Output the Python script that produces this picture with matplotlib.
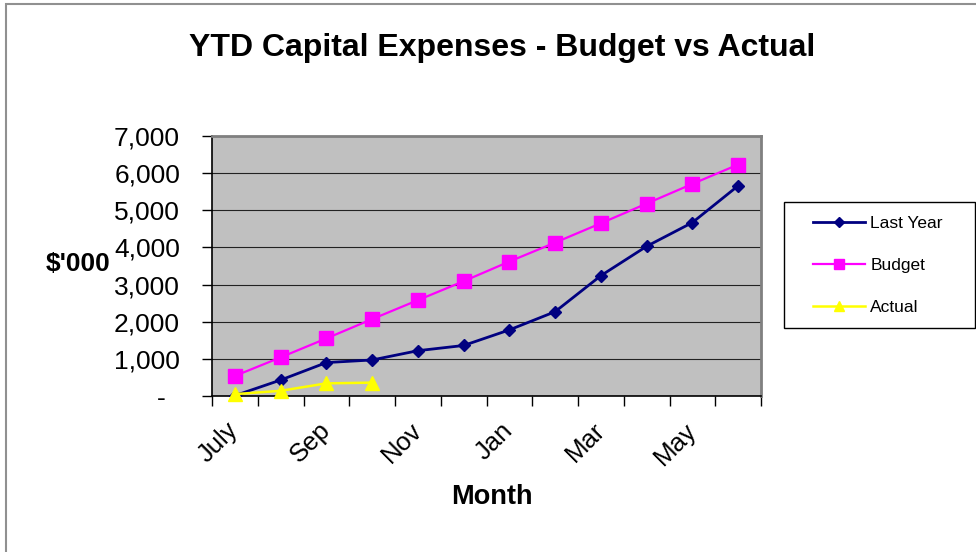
import matplotlib
matplotlib.use("Agg")
import matplotlib.pyplot as plt
from matplotlib.patches import Rectangle
from matplotlib.ticker import FuncFormatter
import numpy as np

plt.rcParams['font.family'] = ['Liberation Sans', 'DejaVu Sans']

months = ['July', 'Aug', 'Sep', 'Oct', 'Nov', 'Dec', 'Jan', 'Feb', 'Mar', 'Apr', 'May', 'June']
last_year = [10, 430, 900, 970, 1220, 1360, 1780, 2270, 3240, 4030, 4670, 5660]
budget = [540, 1040, 1550, 2070, 2580, 3090, 3620, 4130, 4650, 5180, 5710, 6230]
actual = [50, 140, 340, 360]
y_ticks = [0, 1000, 2000, 3000, 4000, 5000, 6000, 7000]

fig = plt.figure(figsize=(9.76, 5.52), dpi=100)
ax = fig.add_axes([212 / 976, 1 - 396 / 552, 549 / 976, 260 / 552])
ax.set_facecolor('#C0C0C0')

x = np.arange(len(months))
ax.plot(x, last_year, color='#000080', lw=2, marker='D', ms=6.5, label='Last Year', zorder=3)
ax.plot(x, budget, color='#FF00FF', lw=1.6, marker='s', ms=10.5, label='Budget', zorder=3)
ax.plot(x[:len(actual)], actual, color='#FFFF00', lw=1.8, marker='^', ms=10, label='Actual',
        zorder=4, clip_on=False)

ax.set_xlim(-0.5, len(months) - 0.5)
ax.set_ylim(0, 7000)

# y axis
ax.set_yticks(y_ticks)
ax.yaxis.set_major_formatter(FuncFormatter(lambda v, p: '-  ' if v == 0 else f'{v:,.0f}'))
ax.tick_params(axis='y', direction='out', length=7, width=1, pad=16, labelsize=19)
ax.grid(axis='y', color='#222222', lw=0.8)
ax.set_axisbelow(True)

# x axis: ticks between categories, labels on every other month
ax.set_xticks(np.arange(-0.5, len(months), 1))
ax.set_xticklabels([])
ax.set_xticks(x[::2], minor=True)
ax.set_xticklabels(months[::2], minor=True)
ax.tick_params(axis='x', which='major', direction='out', length=7, width=1)
ax.tick_params(axis='x', which='minor', length=0, pad=22, labelsize=18.5)
plt.setp(ax.get_xticklabels(minor=True), rotation=45, ha='right', va='center',
         rotation_mode='anchor')
for lbl in ax.get_xticklabels(minor=True):
    lbl.set_x(lbl.get_position()[0])

for s in ['top', 'right']:
    ax.spines[s].set_color('#808080')
    ax.spines[s].set_linewidth(2)
for s in ['left', 'bottom']:
    ax.spines[s].set_color('black')
    ax.spines[s].set_linewidth(1.2)

ax.set_ylabel("$'000", rotation=0, fontsize=19, fontweight='bold', ha='right', va='center')
ax.yaxis.set_label_coords((110 - 212) / 549, (396 - 264) / 260)
ax.set_xlabel('Month', fontsize=19.5, fontweight='bold', va='center')
ax.xaxis.set_label_coords((492 - 212) / 549, (396 - 497) / 260)

fig.text(502 / 976, 1 - 48 / 552, 'YTD Capital Expenses - Budget vs Actual',
         fontsize=23, fontweight='bold', ha='center', va='center')

# legend box
fig.add_artist(Rectangle((784 / 976, 1 - 328 / 552), 191 / 976, 126 / 552,
                         transform=fig.transFigure, fill=False, ec='black', lw=1))
ax.legend(loc='center left', bbox_to_anchor=(813 / 976, 1 - 265.5 / 552),
          bbox_transform=fig.transFigure, frameon=False, fontsize=12.5,
          handlelength=3.0, handletextpad=0.3, borderpad=0, borderaxespad=0,
          labelspacing=1.56, markerscale=0.75)

# chart area border
fig.add_artist(Rectangle((6 / 976, -0.1), 2, 1.1 - 4 / 552, transform=fig.transFigure,
                         fill=False, ec='#909090', lw=1.5))

fig.savefig('out.png', dpi=100)
